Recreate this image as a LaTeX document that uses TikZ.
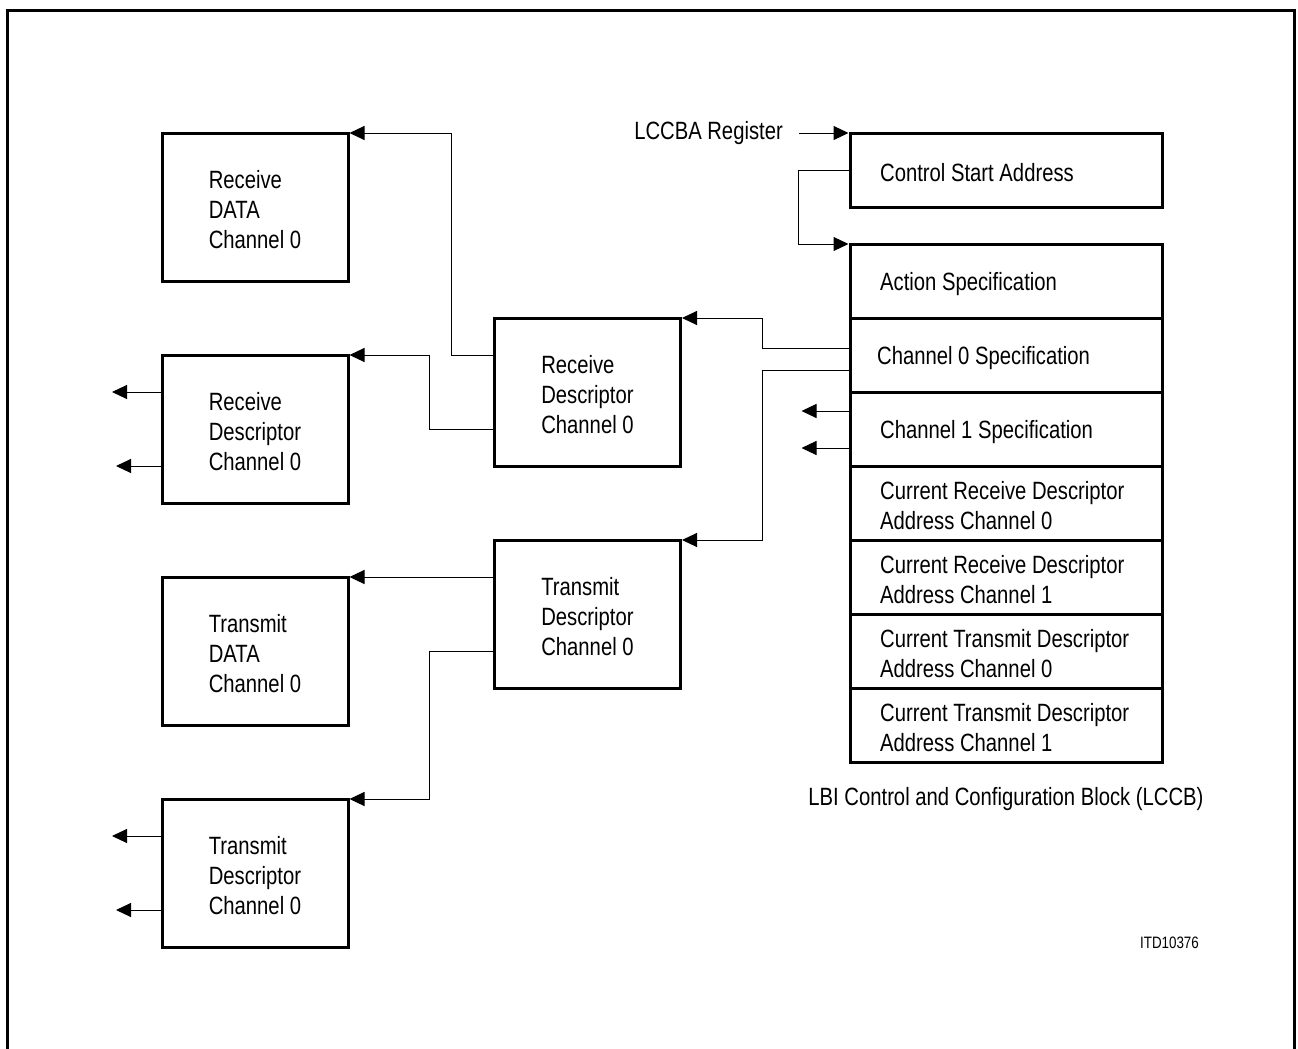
\documentclass[tikz,border=0pt]{standalone}
\usepackage{fontspec}
\setmainfont{Liberation Sans}[FakeStretch=0.81]
\usetikzlibrary{arrows.meta,positioning,calc}

\begin{document}
\begin{tikzpicture}[x=1pt, y=-1pt,
  every node/.style={font=\fontsize{25}{30}\selectfont},
  blk/.style={draw, line width=3pt, minimum width=186pt, minimum height=148pt, inner sep=0pt, outer xsep=1.5pt, outer ysep=0pt, align=left, text height=82pt, text depth=0pt},
  row/.style={draw, line width=3pt, minimum width=312pt, minimum height=74pt, inner sep=0pt, outer xsep=1.5pt, outer ysep=0pt},
  rowtxt/.style={anchor=west, xshift=31.5pt, yshift=-3pt, inner sep=0pt, align=left},
  arr/.style={-{Triangle[length=15pt,width=14pt]}, line width=1pt},
  lbl/.style={inner sep=0pt}
]
  \useasboundingbox (0,0) rectangle (1298,1049);
  % outer frame
  \draw[line width=3pt] (7,1049) -- (7,11) -- (1294,11) -- (1294,1049);

  % data and descriptor blocks
  \node[blk] (rxdata) at (255,207) {Receive\\DATA\\Channel 0};
  \node[blk] (rxdescl) at (255,429) {Receive\\Descriptor\\Channel 0};
  \node[blk] (txdata) at (255,651) {Transmit\\DATA\\Channel 0};
  \node[blk] (txdescl) at (255,873) {Transmit\\Descriptor\\Channel 0};
  \node[blk] (rxdescm) at (587.5,392) {Receive\\Descriptor\\Channel 0};
  \node[blk] (txdescm) at (587.5,614) {Transmit\\Descriptor\\Channel 0};

  % LCCB
  \node[row, label={[rowtxt]west:Control Start Address}] (csa) at (1006,170) {};
  \node[row, label={[rowtxt]west:Action Specification}] (act) at (1006,281) {};
  \node[row, below=0pt of act, label={[rowtxt, xshift=-3pt]west:Channel 0 Specification}] (ch0) {};
  \node[row, below=0pt of ch0, label={[rowtxt]west:Channel 1 Specification}] (ch1) {};
  \node[row, below=0pt of ch1, label={[rowtxt]west:Current Receive Descriptor\\Address Channel 0}] (crd0) {};
  \node[row, below=0pt of crd0, label={[rowtxt]west:Current Receive Descriptor\\Address Channel 1}] (crd1) {};
  \node[row, below=0pt of crd1, label={[rowtxt]west:Current Transmit Descriptor\\Address Channel 0}] (ctd0) {};
  \node[row, below=0pt of ctd0, label={[rowtxt]west:Current Transmit Descriptor\\Address Channel 1}] (ctd1) {};

  \node[lbl, anchor=east] (reg) at (783,133) {LCCBA Register};
  \node[lbl] (cap) at (1006,799) {LBI Control and Configuration Block (LCCB)};
  \node[lbl, anchor=base east, font=\fontsize{16.5}{20}\selectfont] (itd) at (1199,948) {ITD10376};

  % connectors
  \draw[arr] ([xshift=16pt]reg.east) -- (csa.north west);
  \draw[arr] (csa.west) -- ++(-50,0) |- (act.north west);
  \draw[arr] ([yshift=7pt]ch0.west) -- ++(-86.5,0) |- (rxdescm.north east);
  \draw[arr] ([yshift=-15pt]ch0.west) -- ++(-86.5,0) |- (txdescm.north east);
  \draw[arr] ([yshift=18pt]ch1.west) -- ++(-47,0);
  \draw[arr] ([yshift=-19pt]ch1.west) -- ++(-47,0);

  \draw[arr] ([yshift=37pt]rxdescm.west) -- ++(-42,0) |- (rxdata.north east);
  \draw[arr] ([yshift=-37pt]rxdescm.west) -- ++(-64,0) |- (rxdescl.north east);
  \draw[arr] ([yshift=37pt]txdescm.west) -- (txdata.north east);
  \draw[arr] ([yshift=-37pt]txdescm.west) -- ++(-64,0) |- (txdescl.north east);

  \draw[arr] ([yshift=37pt]rxdescl.west) -- ++(-48.5,0);
  \draw[arr] ([yshift=-37pt]rxdescl.west) -- ++(-44.5,0);
  \draw[arr] ([yshift=37pt]txdescl.west) -- ++(-48.5,0);
  \draw[arr] ([yshift=-37pt]txdescl.west) -- ++(-44.5,0);
\end{tikzpicture}
\end{document}
